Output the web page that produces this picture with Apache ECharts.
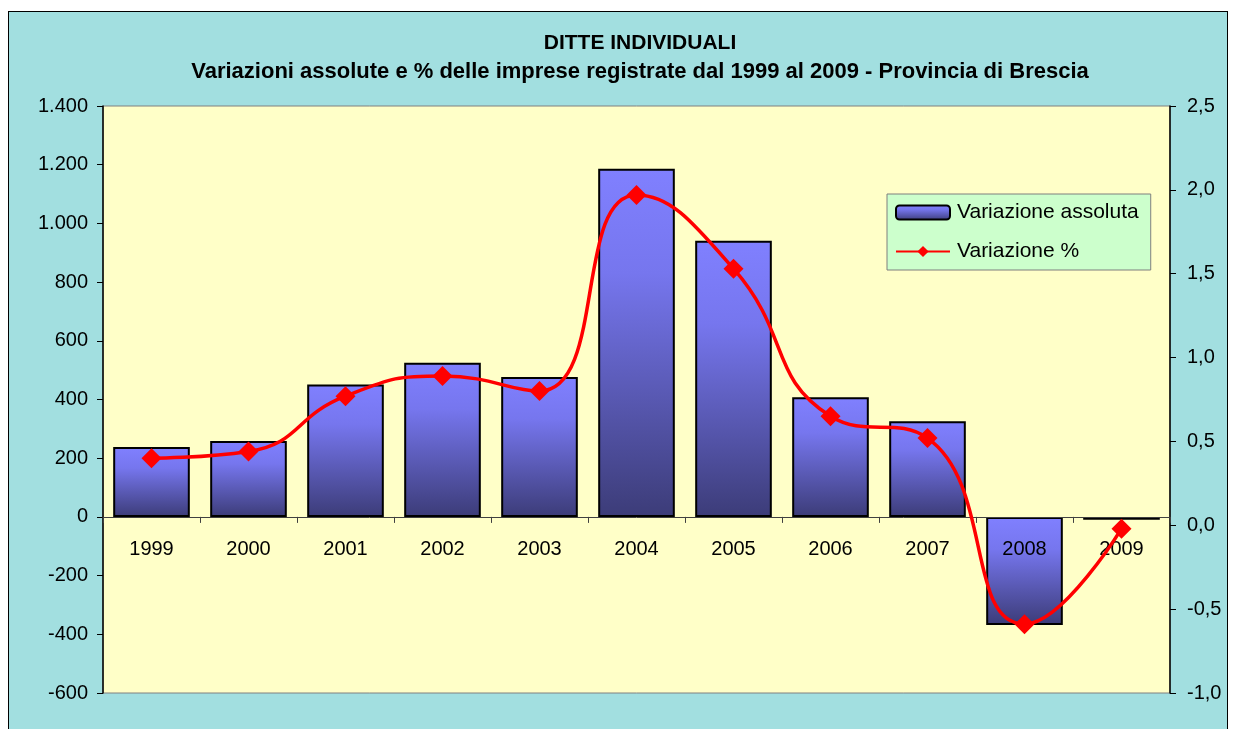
<!DOCTYPE html>
<html>
<head>
<meta charset="utf-8">
<script src="https://cdn.jsdelivr.net/npm/echarts@6/dist/echarts.min.js"></script>
<style>
  html, body { margin: 0; padding: 0; background: #fff; }
  #frame {
    position: absolute; left: 8px; top: 11px;
    width: 1218px; height: 740px;
    background: #a2dfe0; border: 1px solid #000;
  }
  #chart { position: absolute; left: 0; top: 0; width: 1234px; height: 729px; }
</style>
</head>
<body>
<div id="frame"></div>
<div id="chart"></div>
<script>
// Data
const anni = ['1999', '2000', '2001', '2002', '2003', '2004', '2005', '2006', '2007', '2008', '2009'];
const variazioneAssoluta = [238, 259, 451, 525, 477, 1186, 941, 408, 326, -368, -10];
const variazionePerc = [0.40, 0.44, 0.77, 0.89, 0.80, 1.97, 1.53, 0.65, 0.52, -0.59, -0.02];

const leftTicks = { min: -600, max: 1400, interval: 200 };
const rightTicks = { min: -1.0, max: 2.5, interval: 0.5 };

var chartDom = document.getElementById('chart');
var myChart = echarts.init(chartDom);
var option;

// thousands with dot, decimals with comma
function fmtMigliaia (v) {
  var s = Math.abs(v).toString().replace(/\B(?=(\d{3})+(?!\d))/g, '.');
  return (v < 0 ? '-' : '') + s;
}
function fmtDecimali (v) {
  return v.toFixed(1).replace('.', ',');
}

var barColor = new echarts.graphic.LinearGradient(0, 0, 0, 1, [
  { offset: 0, color: '#8080ff' },
  { offset: 0.3, color: '#7676ee' },
  { offset: 1, color: '#3c3c78' }
]);

option = {
  animation: false,
  textStyle: { fontFamily: 'Liberation Sans, Arial, sans-serif' },
  title: {
    text: 'DITTE INDIVIDUALI',
    subtext: 'Variazioni assolute e % delle imprese registrate dal 1999 al 2009 - Provincia di Brescia',
    left: 635,
    textAlign: 'center',
    top: 28,
    itemGap: 7,
    textStyle: { fontSize: 21, fontWeight: 'bold', color: '#000' },
    subtextStyle: { fontSize: 22, fontWeight: 'bold', color: '#000' }
  },
  legend: {
    orient: 'vertical',
    left: 887,
    top: 194,
    padding: [8, 12, 8, 8],
    itemGap: 18,
    itemWidth: 54,
    itemHeight: 14,
    backgroundColor: '#ccffcc',
    borderColor: '#7f7f7f',
    borderWidth: 1,
    textStyle: { fontSize: 21, color: '#000', padding: [0, 0, 0, 2] },
    data: ['Variazione assoluta', 'Variazione %']
  },
  grid: {
    show: true,
    left: 103,
    top: 106,
    right: 64,
    bottom: 36,
    backgroundColor: '#ffffc8',
    borderColor: '#808080',
    borderWidth: 1
  },
  xAxis: {
    type: 'category',
    data: anni,
    z: 3,
    axisLine: { onZero: true, onZeroAxisIndex: 0, lineStyle: { color: '#404040', width: 1 } },
    axisTick: { show: true, length: 6, lineStyle: { color: '#404040' } },
    axisLabel: { fontSize: 20, color: '#000', margin: -154 }
  },
  yAxis: [
    {
      type: 'value',
      min: leftTicks.min,
      max: leftTicks.max,
      interval: leftTicks.interval,
      splitLine: { show: false },
      axisLine: { show: true, lineStyle: { color: '#000', width: 1.5 } },
      axisTick: { show: true, length: 6, lineStyle: { color: '#000' } },
      axisLabel: { fontSize: 20, color: '#000', margin: 15, formatter: fmtMigliaia }
    },
    {
      type: 'value',
      min: rightTicks.min,
      max: rightTicks.max,
      interval: rightTicks.interval,
      splitLine: { show: false },
      axisLine: { show: true, lineStyle: { color: '#000', width: 1.5 } },
      axisTick: { show: true, length: 6, lineStyle: { color: '#000' } },
      axisLabel: { fontSize: 20, color: '#000', margin: 17, formatter: fmtDecimali }
    }
  ],
  series: [
    {
      name: 'Variazione assoluta',
      type: 'bar',
      yAxisIndex: 0,
      data: variazioneAssoluta,
      barCategoryGap: '21%',
      itemStyle: { color: barColor, borderColor: '#000', borderWidth: 2 }
    },
    {
      name: 'Variazione %',
      type: 'line',
      yAxisIndex: 1,
      data: variazionePerc,
      smooth: 0.5,
      symbol: 'diamond',
      symbolSize: 20,
      lineStyle: { color: '#ff0000', width: 3.5 },
      itemStyle: { color: '#ff0000' },
      z: 5
    }
  ]
};

option && myChart.setOption(option);
</script>
</body>
</html>
